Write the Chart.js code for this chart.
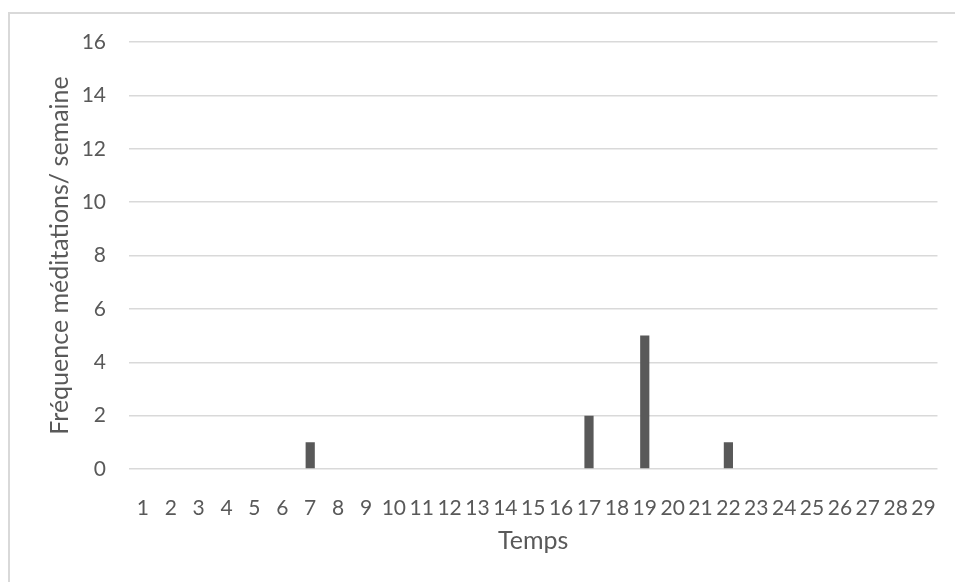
<!DOCTYPE html>
<html>
<head>
<meta charset="utf-8">
<script src="https://cdn.jsdelivr.net/npm/chart.js@4.4.0/dist/chart.umd.min.js"></script>
<style>
    html, body { margin: 0; padding: 0; background: #fff; overflow: hidden; }
    #wrap { position: relative; width: 955px; height: 582px; }
    #frame { position: absolute; left: 8px; top: 12px; width: 960px; height: 590px; border: 2px solid #d9d9d9; box-sizing: border-box; }
    canvas { position: absolute; left: 0; top: 0; }
</style>
</head>
<body>
<div id="wrap">
    <div id="frame"></div>
    <canvas id="meditChart" width="955" height="582"></canvas>
</div>
<script>
// données
const categories = ['1', '2', '3', '4', '5', '6', '7', '8', '9', '10', '11', '12', '13', '14', '15',
    '16', '17', '18', '19', '20', '21', '22', '23', '24', '25', '26', '27', '28', '29'];
const frequence = [0, 0, 0, 0, 0, 0, 1, 0, 0, 0, 0, 0, 0, 0, 0,
    0, 2, 0, 5, 0, 0, 1, 0, 0, 0, 0, 0, 0, 0];
const yTicks = [0, 2, 4, 6, 8, 10, 12, 14, 16];

const textColor = '#595959';
const gridColor = '#d9d9d9';
const fontFamily = 'Lato, "Open Sans", sans-serif';

const ctx = document.getElementById('meditChart').getContext('2d');
const meditChart = new Chart(ctx, {
    type: 'bar',
    data: {
        labels: categories,
        datasets: [{
            data: frequence,
            backgroundColor: '#595959',
            borderWidth: 0,
            categoryPercentage: 1,
            barPercentage: 0.33
        }]
    },
    options: {
        responsive: false,
        animation: false,
        plugins: {
            legend: { display: false },
            tooltip: { enabled: false }
        },
        layout: {
            padding: { left: 41, right: 16, top: 42, bottom: 22 }
        },
        scales: {
            x: {
                grid: { display: false },
                border: { display: false },
                ticks: {
                    color: textColor,
                    font: { family: fontFamily, size: 21 },
                    autoSkip: false,
                    maxRotation: 0,
                    padding: 19
                },
                title: {
                    display: true,
                    text: 'Temps',
                    color: textColor,
                    font: { family: fontFamily, size: 25 }
                },
                afterFit: (scale) => { scale.height = 91; }
            },
            y: {
                min: 0,
                max: 16,
                afterBuildTicks: (scale) => { scale.ticks = yTicks.map(v => ({ value: v })); },
                grid: {
                    color: gridColor,
                    lineWidth: 1.5,
                    drawTicks: false
                },
                border: { display: false },
                ticks: {
                    color: textColor,
                    font: { family: fontFamily, size: 21 },
                    padding: 23
                },
                title: {
                    display: true,
                    text: 'Fréquence méditations/ semaine',
                    color: textColor,
                    font: { family: fontFamily, size: 25 }
                },
                afterFit: (scale) => { scale.width = 88; }
            }
        }
    }
});
</script>
</body>
</html>
